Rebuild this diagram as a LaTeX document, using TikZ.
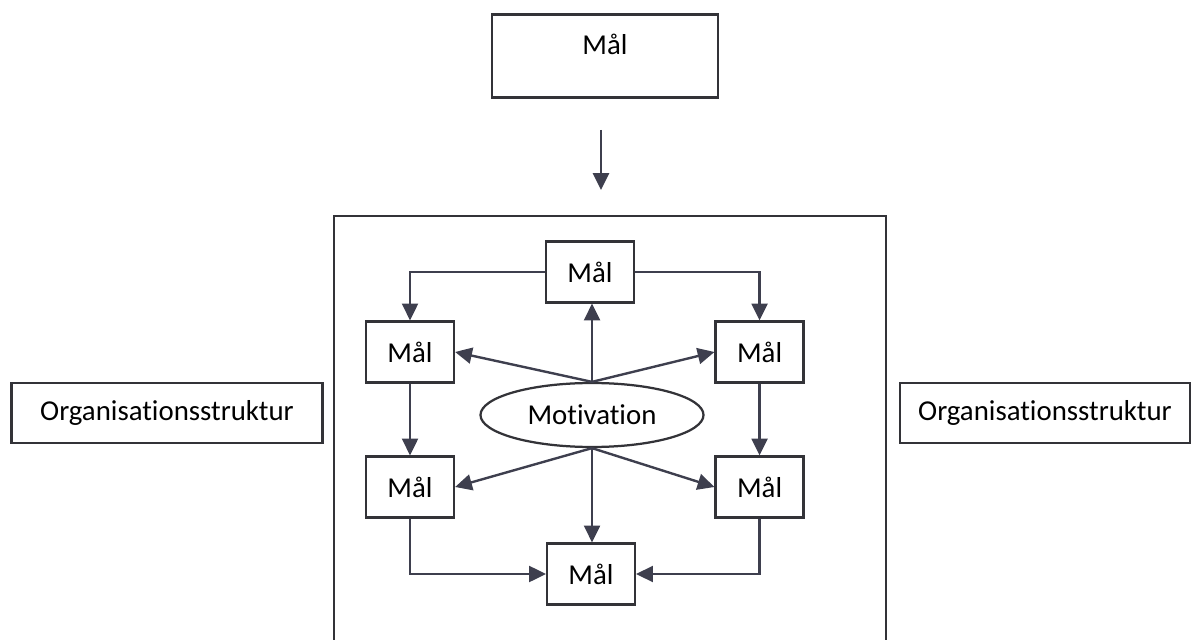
\documentclass[tikz,border=0pt]{standalone}
\usepackage{fontspec}
\setmainfont{Carlito}[Ligatures=NoCommon]
\usepackage{xcolor}
\usetikzlibrary{positioning}
\usetikzlibrary{arrows.meta}
\usetikzlibrary{shapes.geometric}
\definecolor{linegray}{HTML}{3E3F4E}
\definecolor{boxgray}{HTML}{333338}
\tikzset {
  % boxes for the goals
  goal/.style = {draw=boxgray, line width=1.6pt, minimum width=2.2cm, minimum height=1.525cm,
    font=\fontsize{20.5}{24}\selectfont, inner sep=0pt},
  % wide boxes at the sides
  orgbox/.style = {draw=boxgray, line width=1.6pt, minimum height=1.5cm,
    font=\fontsize{20.5}{24}\selectfont, inner sep=0pt},
  % the ellipse in the middle
  motiv/.style = {draw=boxgray, ellipse, line width=1.6pt, minimum width=5.575cm,
    minimum height=1.6cm, font=\fontsize{20.5}{24}\selectfont, inner sep=0pt},
  % connectors
  conn/.style = {linegray, line width=1.7pt, -{Triangle[length=0.42cm, width=0.4cm]}},
}
\begin{document}
\begin{tikzpicture}
        \useasboundingbox (0, 0) rectangle (29.95, -16);

        \node[goal, minimum width=5.65cm, minimum height=2.075cm,
              text height=0.5cm, text depth=0.55cm] (topgoal) at (15.125, -1.4) {Mål};
        \coordinate (arrowstart) at (15.025, -3.25);
        \coordinate (arrowend) at (15.025, -4.75);
        \draw [conn] (arrowstart) -- (arrowend);

        % frame around the inner goals
        \draw [boxgray, line width=1.6pt] (8.35, -16.2) -- (8.35, -5.4) -- (22.15, -5.4) -- (22.15, -16.2);

        \node[orgbox, minimum width=7.775cm] (orgleft) at (4.175, -10.325) {Organisationsstruktur};
        \node[orgbox, minimum width=7.25cm] (orgright) at (26.125, -10.325) {Organisationsstruktur};

        \node[goal] (g1) at (14.75, -6.8) {Mål};
        \node[goal] (g2) at (10.25, -8.8) {Mål};
        \node[goal] (g3) at (18.99, -8.8) {Mål};
        \node[goal] (g4) at (10.25, -12.175) {Mål};
        \node[goal] (g5) at (18.99, -12.175) {Mål};
        \node[goal] (g6) at (14.775, -14.35) {Mål};
        \node[motiv] (m) at (14.8, -10.375) {Motivation};

        \draw [conn] (g1.west) -| (g2.north);
        \draw [conn] (g1.east) -| (g3.north);
        \draw [conn] (g2.south) -- (g4.north);
        \draw [conn] (g3.south) -- (g5.north);
        \draw [conn] (g4.south) |- (g6.west);
        \draw [conn] (g5.south) |- (g6.east);

        \draw [conn] (m.north) -- (m.north |- g1.south);
        \draw [conn] (m.north) -- (g2.east);
        \draw [conn] (m.north) -- (g3.west);
        \draw [conn] (m.south) -- (m.south |- g6.north);
        \draw [conn] (m.south) -- (g4.east);
        \draw [conn] (m.south) -- (g5.west);
      \end{tikzpicture}
\end{document}
